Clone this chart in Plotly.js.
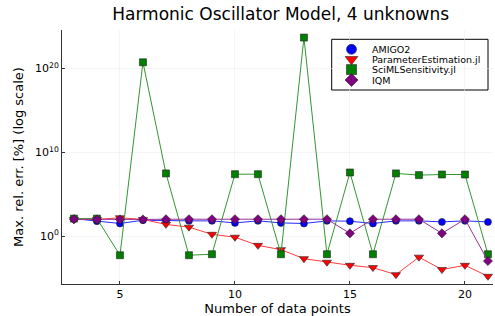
<!DOCTYPE html>
<html>
<head>
<meta charset="utf-8">
<script src="https://cdn.plot.ly/plotly-3.0.1.min.js"></script>
<style>html,body{margin:0;padding:0;background:#fff;}#chart{width:495px;height:316px;}</style>
</head>
<body>
<div id="chart"></div>
<script>
const dataPoints = [3,4,5,6,7,8,9,10,11,12,13,14,15,16,17,18,19,20,21];
const amigo2 = [125, 62, 33, 81, 68, 68, 68, 39, 68, 39, 33, 68, 62, 33, 68, 68, 51, 68, 51];
const paramEst = [100, 100, 160, 100, 26, 12, 1.7, 0.76, 0.081, 0.025, 0.0021, 0.00079, 0.00034, 0.00018, 0.000026, 0.0032, 0.000105, 0.00034, 0.0000166];
const sciml = [126, 126, 0.0054, 5.6e20, 3.1e7, 0.0054, 0.0071, 2.5e7, 2.5e7, 0.0071, 5e23, 0.0071, 4e7, 0.0071, 3.1e7, 1.95e7, 2.3e7, 2.3e7, 0.0071];
const iqm = [107, 100, 100, 100, 107, 107, 107, 107, 107, 107, 107, 107, 2.2, 107, 107, 107, 2.2, 107, 0.0011];
const names = ["AMIGO2", "ParameterEstimation.jl", "SciMLSensitivity.jl", "IQM"];
const xTicks = [5, 10, 15, 20];
const yTickVals = [1, 1e10, 1e20];
const yTickText = ["10<sup>0</sup>", "10<sup>10</sup>", "10<sup>20</sup>"];

const font = "DejaVu Sans, sans-serif";
const styles = [
  {line: "rgb(40,40,255)", fill: "rgb(0,0,255)", symbol: "circle", size: 7},
  {line: "rgb(255,60,60)", fill: "rgb(255,0,0)", symbol: "triangle-down", size: 8},
  {line: "rgb(50,150,50)", fill: "rgb(0,128,0)", symbol: "square", size: 7},
  {line: "rgb(150,50,150)", fill: "rgb(128,0,128)", symbol: "diamond", size: 7}
];
const series = [amigo2, paramEst, sciml, iqm];
const traces = series.map((y, i) => ({
  x: dataPoints, y: y, name: names[i], type: "scatter", mode: "lines+markers", showlegend: false,
  line: {color: styles[i].line, width: 1},
  marker: {symbol: styles[i].symbol, size: styles[i].size, color: styles[i].fill, line: {color: "#222", width: 0.6}}
}));

// custom compact legend drawn on an overlay axis measured in pixels
const legX = 351.5, legTextX = 370, legRows = [49.3, 59.3, 69.6, 80];
names.forEach((n, i) => {
  traces.push({
    x: [legX], y: [legRows[i]], xaxis: "x2", yaxis: "y2", type: "scatter", mode: "markers", showlegend: false,
    marker: {symbol: styles[i].symbol, size: i === 1 ? 11 : 10, color: styles[i].fill, line: {color: "#222", width: 0.6}}
  });
});
const annotations = names.map((n, i) => ({
  text: n, x: legTextX, y: legRows[i], xref: "x2", yref: "y2", xanchor: "left", yanchor: "middle",
  showarrow: false, font: {size: 9.5, family: font, color: "#000"}
}));

const layout = {
  width: 495, height: 316,
  margin: {l: 62, r: 2, t: 30, b: 32},
  paper_bgcolor: "#fff", plot_bgcolor: "#fff",
  font: {family: font, color: "#000"},
  title: {text: "Harmonic Oscillator Model, 4 unknowns", font: {size: 17, family: font}, x: 0.567, xanchor: "center", y: 0.955, yanchor: "middle"},
  showlegend: false,
  annotations: annotations,
  shapes: [{type: "rect", xref: "x2", yref: "y2", x0: 331.7, x1: 488, y0: 39.3, y1: 90,
            line: {color: "#000", width: 1}, fillcolor: "#fff", layer: "below"}],
  xaxis: {
    range: [2.48, 21.22], tickvals: xTicks, ticks: "inside", ticklen: 3, tickcolor: "#333",
    showgrid: true, gridcolor: "#ebebeb", gridwidth: 0.5, zeroline: false,
    showline: true, linecolor: "#333", linewidth: 1,
    tickfont: {size: 11, family: font},
    title: {text: "Number of data points", font: {size: 13, family: font}, standoff: 4}
  },
  yaxis: {
    type: "log", range: [-5.7, 24.6], tickvals: yTickVals, ticktext: yTickText,
    ticks: "inside", ticklen: 3, tickcolor: "#333",
    showgrid: true, gridcolor: "#ebebeb", gridwidth: 0.5, zeroline: false,
    showline: true, linecolor: "#333", linewidth: 1,
    tickfont: {size: 11, family: font},
    title: {text: "Max. rel. err. [%] (log scale)", font: {size: 13, family: font}, standoff: 8}
  },
  xaxis2: {overlaying: "x", range: [62, 493], visible: false, fixedrange: true},
  yaxis2: {overlaying: "y", range: [284, 30], visible: false, fixedrange: true}
};
Plotly.newPlot("chart", traces, layout, {displayModeBar: false, staticPlot: true});
</script>
</body>
</html>
